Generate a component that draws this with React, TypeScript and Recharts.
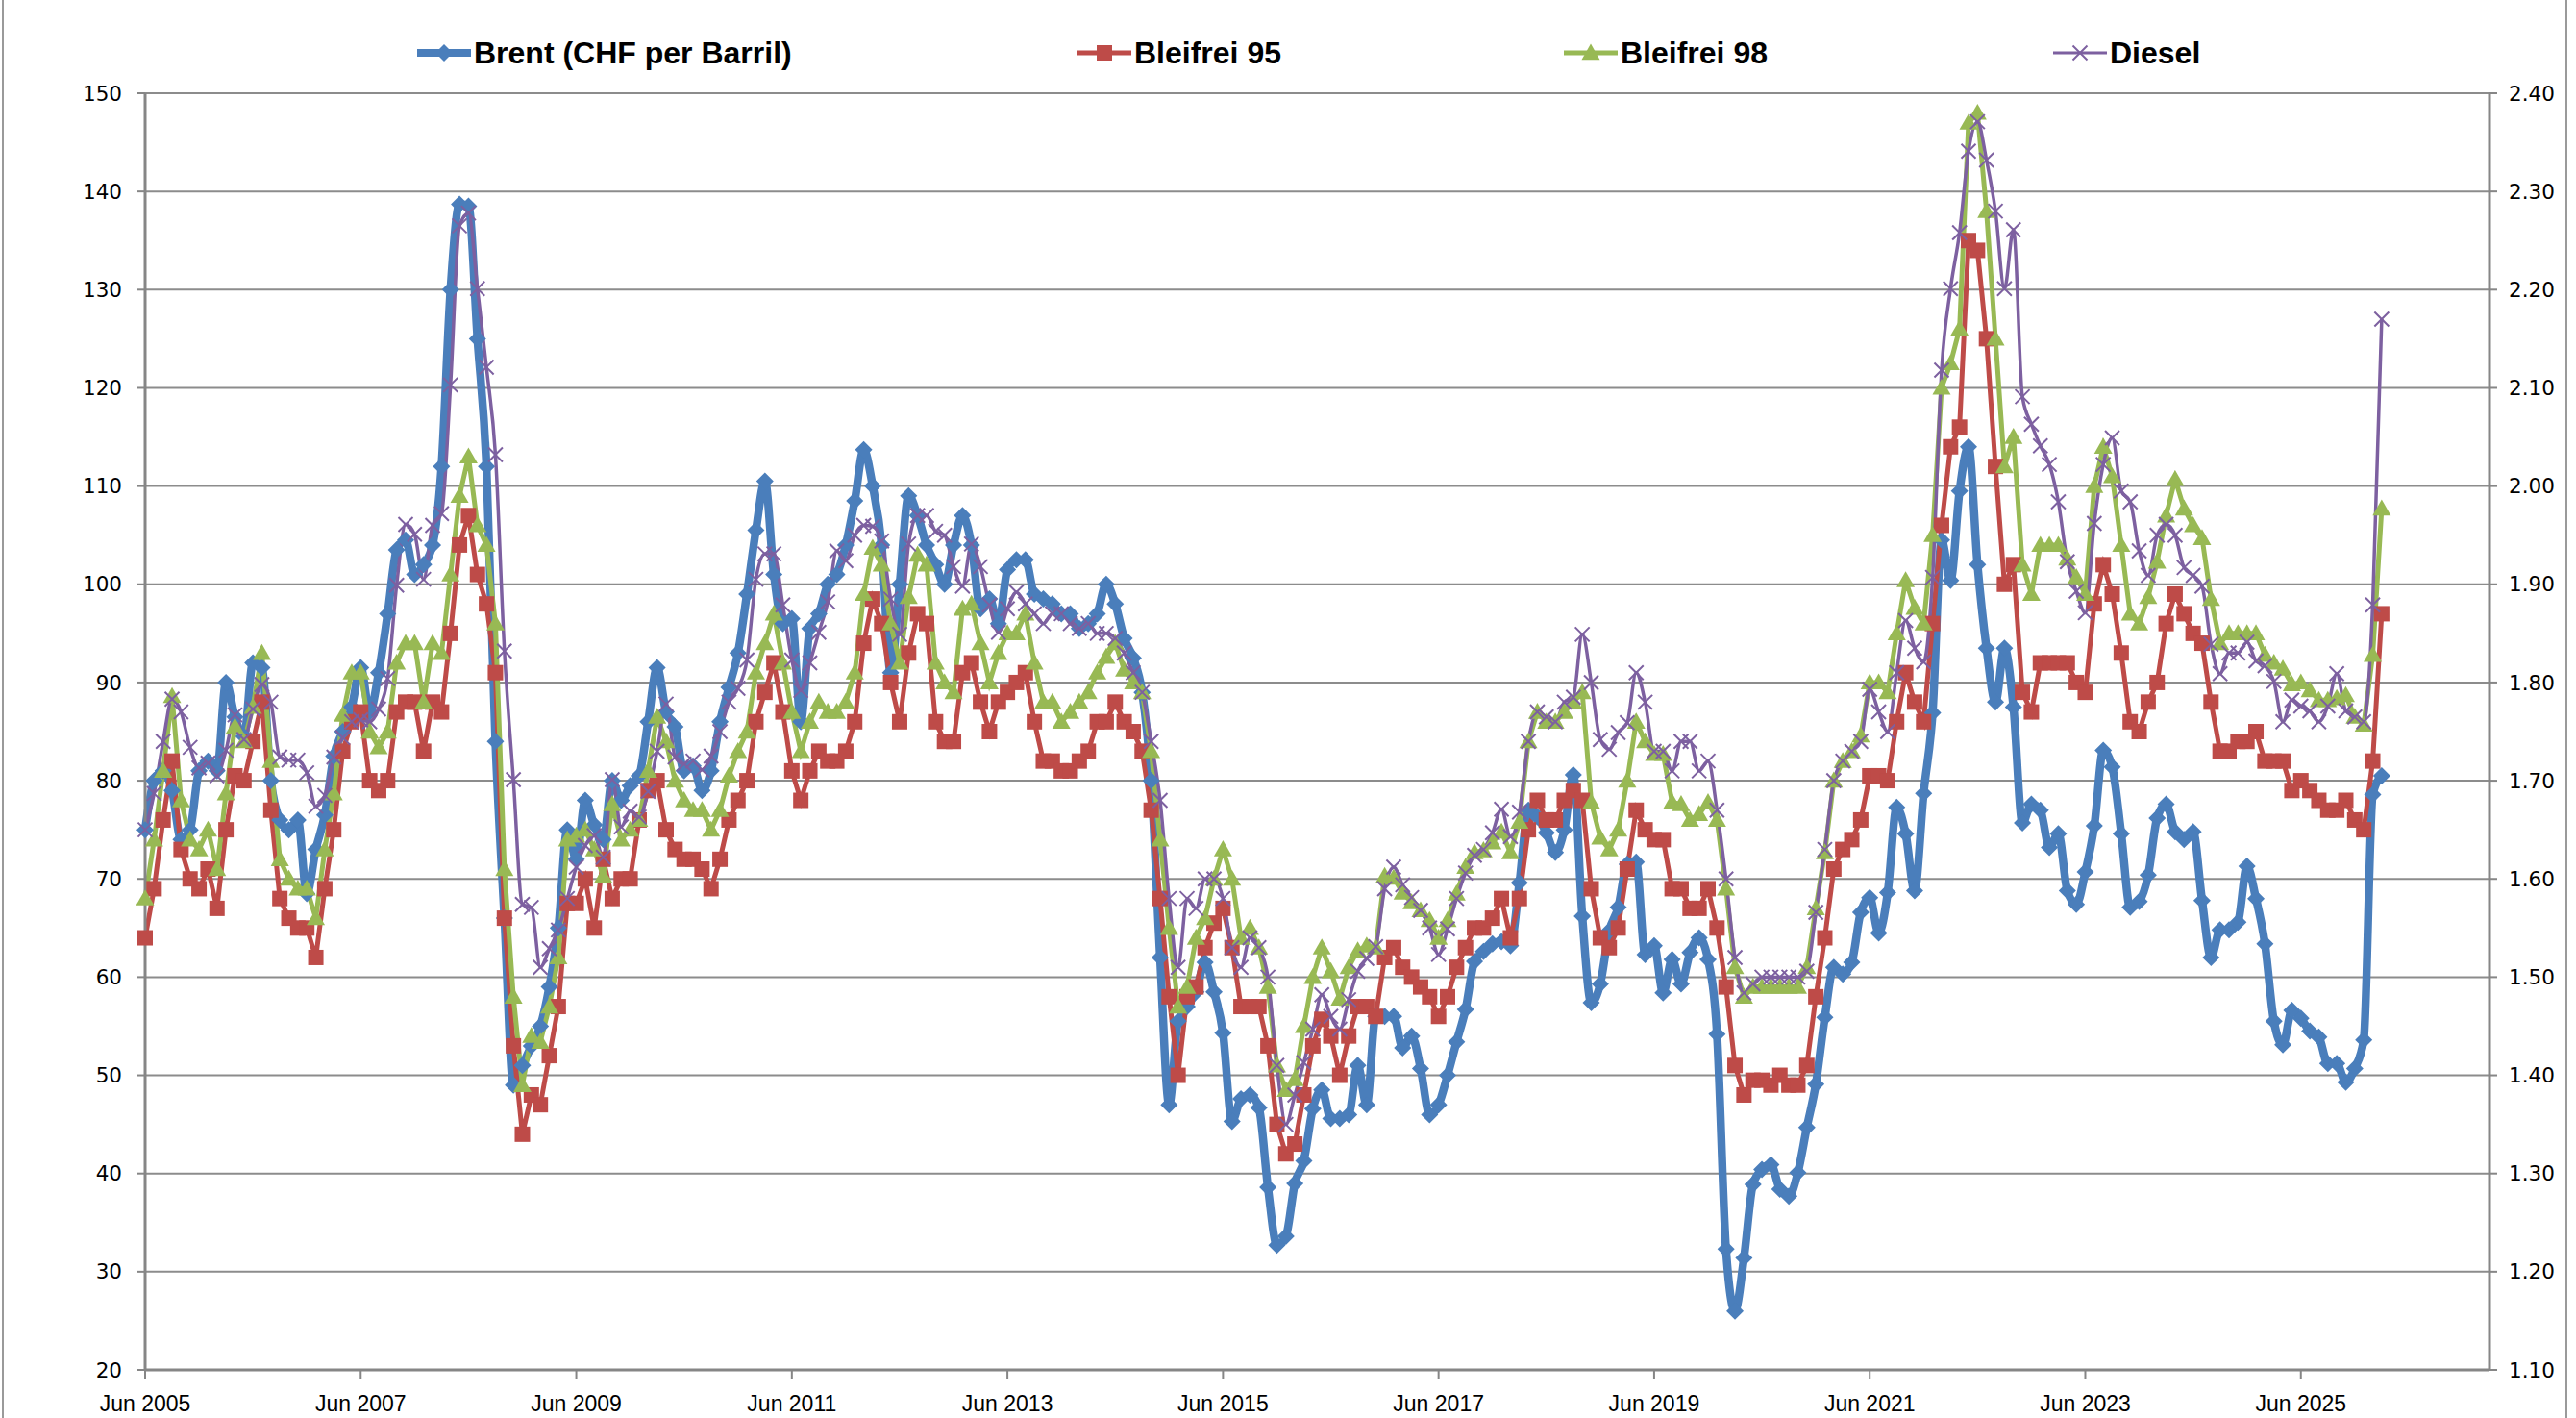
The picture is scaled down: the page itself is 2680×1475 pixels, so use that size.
import React from 'react';
import { LineChart, Line, XAxis, YAxis, CartesianGrid, Legend } from 'recharts';

// ---- categories / tick labels ----
const MONTH_NAMES = ['Jan', 'Feb', 'Mar', 'Apr', 'May', 'Jun', 'Jul', 'Aug', 'Sep', 'Oct', 'Nov', 'Dec'];
const FIRST_MONTH = 5; // Jun
const FIRST_YEAR = 2005;
const SLOT_COUNT = 262; // monthly slots on the category axis (Jun 2005 ... Mar 2027)
const xTickIndex = [0, 24, 48, 72, 96, 120, 144, 168, 192, 216, 240];
const xTickLabels = ['Jun 2005', 'Jun 2007', 'Jun 2009', 'Jun 2011', 'Jun 2013', 'Jun 2015', 'Jun 2017', 'Jun 2019', 'Jun 2021', 'Jun 2023', 'Jun 2025'];
const xMinorTicks = Array.from({ length: 88 }, (_, k) => k * 3);
const leftTicks = [20, 30, 40, 50, 60, 70, 80, 90, 100, 110, 120, 130, 140, 150];
const leftMinorTicks = [25, 35, 45, 55, 65, 75, 85, 95, 105, 115, 125, 135, 145];
const rightTicks = [1.1, 1.2, 1.3, 1.4, 1.5, 1.6, 1.7, 1.8, 1.9, 2.0, 2.1, 2.2, 2.3, 2.4];
const rightMinorTicks = [1.15, 1.25, 1.35, 1.45, 1.55, 1.65, 1.75, 1.85, 1.95, 2.05, 2.15, 2.25, 2.35];

// ---- series (monthly, from Jun 2005) ----
// Brent, CHF per barrel (left axis)
const brent = [
  75, 80, 81, 79, 74, 75, 81, 82, 81, 90, 86.5, 84.5,
  92, 91.5, 80, 76, 75, 76, 68.5, 73, 76.5, 82.5, 85, 87.5,
  91.5, 87, 91, 97, 103.5, 104.5, 101, 102, 104, 112, 130, 138.7,
  138.5, 125, 112, 84, 66, 49, 51, 53, 55, 59, 65, 75,
  72, 78, 75.5, 74, 80, 78, 79.5, 80.5, 86, 91.5, 87, 85.5,
  81, 81.5, 79, 81, 86, 89.5, 93, 99, 105.5, 110.5, 101, 96,
  96.5, 86, 95.5, 97, 100, 101, 104, 108.5, 113.7, 110, 104, 91,
  100, 109, 107, 104, 102, 100, 104, 107, 104, 97.5, 98.5, 96,
  101.5, 102.5, 102.5, 99, 98.5, 98, 97, 97, 95.5, 96, 97, 100,
  98, 94.5, 92.5, 89, 80, 62, 47, 55.5, 57, 58.5, 61.5, 58.5,
  54.3, 45.3, 47.6, 48, 46.7, 38.6, 32.7, 33.6, 39, 41.3, 46.6, 48.5,
  45.6, 45.6, 46, 51, 47, 56, 56, 56, 52.8, 54, 50.7, 46,
  47, 50, 53.4, 56.7, 61.6, 62.6, 63.4, 63.6, 63.2, 69.6, 77, 76.3,
  74.7, 72.7, 75, 80.6, 66.2, 57.4, 59.3, 64.7, 67.1, 71.5, 71.7, 62.3,
  63.2, 58.4, 61.8, 59.3, 62.5, 64, 61.8, 54.2, 32.3, 26, 31.4, 38.9,
  40.4, 40.9, 38.4, 37.7, 40.1, 44.7, 49.1, 55.9, 61, 60.3, 61.5, 66.6,
  68.1, 64.5, 68.6, 77.3, 74.6, 68.8, 78.7, 86.9, 104.5, 100.4, 109.5, 114,
  102, 93.5, 88, 93.5, 87.5, 75.7, 77.6, 77, 73.2, 74.6, 68.8, 67.4,
  70.7, 75.4, 83.1, 81.4, 74.6, 67.1, 67.7, 70.4, 76.2, 77.6, 74.8, 74,
  74.8, 67.8, 62, 64.8, 64.8, 65.6, 71.3, 68, 63.4, 55.5, 53.1, 56.6,
  55.8, 54.5, 53.9, 51.2, 51.2, 49.3, 50.7, 53.6, 78.6, 80.5,
];

// Bleifrei 95, CHF per litre (right axis)
const bleifrei95 = [
  1.54, 1.59, 1.66, 1.72, 1.63, 1.60, 1.59, 1.61, 1.57, 1.65, 1.705, 1.70,
  1.74, 1.78, 1.67, 1.58, 1.56, 1.55, 1.55, 1.52, 1.59, 1.65, 1.73, 1.76,
  1.77, 1.70, 1.69, 1.70, 1.77, 1.78, 1.78, 1.73, 1.78, 1.77, 1.85, 1.94,
  1.97, 1.91, 1.88, 1.81, 1.56, 1.43, 1.34, 1.38, 1.37, 1.42, 1.47, 1.575,
  1.575, 1.60, 1.55, 1.62, 1.58, 1.60, 1.60, 1.66, 1.69, 1.70, 1.65, 1.63,
  1.62, 1.62, 1.61, 1.59, 1.62, 1.66, 1.68, 1.70, 1.76, 1.79, 1.82, 1.77,
  1.71, 1.68, 1.71, 1.73, 1.72, 1.72, 1.73, 1.76, 1.84, 1.885, 1.86, 1.80,
  1.76, 1.83, 1.87, 1.86, 1.76, 1.74, 1.74, 1.81, 1.82, 1.78, 1.75, 1.78,
  1.79, 1.80, 1.81, 1.76, 1.72, 1.72, 1.71, 1.71, 1.72, 1.73, 1.76, 1.76,
  1.78, 1.76, 1.75, 1.73, 1.67, 1.58, 1.48, 1.40, 1.48, 1.49, 1.53, 1.555,
  1.57, 1.53, 1.47, 1.47, 1.47, 1.43, 1.35, 1.32, 1.33, 1.38, 1.43, 1.457,
  1.44, 1.40, 1.44, 1.47, 1.47, 1.46, 1.52, 1.53, 1.51, 1.50, 1.49, 1.48,
  1.46, 1.48, 1.51, 1.53, 1.55, 1.55, 1.56, 1.58, 1.54, 1.58, 1.65, 1.68,
  1.66, 1.66, 1.68, 1.69, 1.68, 1.59, 1.54, 1.53, 1.55, 1.61, 1.67, 1.65,
  1.64, 1.64, 1.59, 1.59, 1.57, 1.57, 1.59, 1.55, 1.49, 1.41, 1.38, 1.395,
  1.395, 1.39, 1.40, 1.39, 1.39, 1.41, 1.48, 1.54, 1.61, 1.63, 1.64, 1.66,
  1.705, 1.705, 1.70, 1.76, 1.81, 1.78, 1.76, 1.86, 1.96, 2.04, 2.06, 2.25,
  2.24, 2.15, 2.02, 1.90, 1.92, 1.79, 1.77, 1.82, 1.82, 1.82, 1.82, 1.80,
  1.79, 1.88, 1.92, 1.89, 1.83, 1.76, 1.75, 1.78, 1.80, 1.86, 1.89, 1.87,
  1.85, 1.84, 1.78, 1.73, 1.73, 1.74, 1.74, 1.75, 1.72, 1.72, 1.72, 1.69,
  1.70, 1.69, 1.68, 1.67, 1.67, 1.68, 1.66, 1.65, 1.72, 1.87,
];

// Bleifrei 98, CHF per litre (right axis)
const bleifrei98 = [
  1.58, 1.64, 1.71, 1.786, 1.68, 1.64, 1.63, 1.65, 1.61, 1.687, 1.755, 1.74,
  1.775, 1.83, 1.72, 1.62, 1.60, 1.59, 1.59, 1.56, 1.63, 1.687, 1.767, 1.81,
  1.81, 1.75, 1.734, 1.75, 1.82, 1.84, 1.84, 1.78, 1.84, 1.83, 1.91, 1.99,
  2.03, 1.96, 1.94, 1.86, 1.61, 1.48, 1.39, 1.44, 1.434, 1.47, 1.52, 1.64,
  1.644, 1.65, 1.63, 1.603, 1.676, 1.64, 1.65, 1.66, 1.71, 1.765, 1.74, 1.70,
  1.68, 1.67, 1.67, 1.65, 1.67, 1.705, 1.73, 1.75, 1.81, 1.84, 1.87, 1.82,
  1.77, 1.73, 1.76, 1.78, 1.77, 1.77, 1.78, 1.81, 1.89, 1.937, 1.92, 1.86,
  1.82, 1.887, 1.93, 1.92, 1.82, 1.80, 1.79, 1.875, 1.88, 1.84, 1.80, 1.83,
  1.85, 1.85, 1.87, 1.82, 1.78, 1.78, 1.76, 1.77, 1.78, 1.79, 1.81, 1.826,
  1.84, 1.813, 1.80, 1.79, 1.73, 1.64, 1.55, 1.47, 1.49, 1.54, 1.56, 1.60,
  1.63, 1.60, 1.54, 1.55, 1.53, 1.49, 1.41, 1.385, 1.396, 1.45, 1.50, 1.53,
  1.506, 1.478, 1.51, 1.527, 1.532, 1.53, 1.603, 1.601, 1.586, 1.576, 1.568, 1.558,
  1.54, 1.558, 1.585, 1.612, 1.627, 1.629, 1.637, 1.648, 1.627, 1.658, 1.74, 1.77,
  1.76, 1.76, 1.77, 1.78, 1.79, 1.678, 1.642, 1.63, 1.65, 1.70, 1.76, 1.74,
  1.727, 1.727, 1.678, 1.676, 1.66, 1.666, 1.678, 1.66, 1.59, 1.51, 1.48, 1.49,
  1.49, 1.49, 1.49, 1.49, 1.49, 1.51, 1.57, 1.627, 1.70, 1.72, 1.73, 1.746,
  1.80, 1.80, 1.79, 1.85, 1.904, 1.876, 1.86, 1.95, 2.10, 2.125, 2.16, 2.37,
  2.38, 2.28, 2.15, 2.02, 2.05, 1.92, 1.89, 1.94, 1.94, 1.94, 1.926, 1.907,
  1.89, 2.00, 2.04, 2.01, 1.94, 1.87, 1.86, 1.887, 1.923, 1.97, 2.007, 1.977,
  1.96, 1.947, 1.885, 1.84, 1.85, 1.85, 1.85, 1.85, 1.828, 1.82, 1.814, 1.798,
  1.80, 1.792, 1.782, 1.782, 1.784, 1.787, 1.765, 1.757, 1.828, 1.977,
];

// Diesel, CHF per litre (right axis)
const diesel = [
  1.65, 1.687, 1.74, 1.783, 1.77, 1.734, 1.713, 1.718, 1.705, 1.731, 1.767, 1.742,
  1.773, 1.798, 1.78, 1.724, 1.721, 1.721, 1.708, 1.674, 1.685, 1.724, 1.744, 1.76,
  1.762, 1.76, 1.773, 1.804, 1.899, 1.961, 1.951, 1.905, 1.96, 1.972, 2.103, 2.265,
  2.278, 2.201, 2.121, 2.032, 1.832, 1.701, 1.574, 1.571, 1.51, 1.529, 1.548, 1.58,
  1.612, 1.634, 1.644, 1.622, 1.701, 1.653, 1.669, 1.663, 1.689, 1.73, 1.778, 1.724,
  1.717, 1.72, 1.711, 1.725, 1.75, 1.78, 1.794, 1.823, 1.905, 1.931, 1.931, 1.879,
  1.823, 1.792, 1.82, 1.851, 1.882, 1.934, 1.924, 1.95, 1.96, 1.959, 1.944, 1.885,
  1.849, 1.941, 1.97, 1.97, 1.954, 1.95, 1.918, 1.898, 1.941, 1.918, 1.879, 1.851,
  1.875, 1.892, 1.88, 1.87, 1.86, 1.87, 1.87, 1.86, 1.855, 1.86, 1.85, 1.85,
  1.845, 1.83, 1.81, 1.79, 1.74, 1.68, 1.58, 1.51, 1.58, 1.57, 1.60, 1.60,
  1.58, 1.53, 1.51, 1.54, 1.53, 1.50, 1.41, 1.35, 1.38, 1.413, 1.447, 1.482,
  1.46, 1.447, 1.477, 1.506, 1.519, 1.531, 1.59, 1.612, 1.594, 1.581, 1.568, 1.55,
  1.523, 1.549, 1.58, 1.606, 1.624, 1.63, 1.647, 1.671, 1.643, 1.668, 1.74, 1.77,
  1.765, 1.76, 1.78, 1.785, 1.849, 1.80, 1.742, 1.732, 1.749, 1.759, 1.81, 1.78,
  1.73, 1.73, 1.71, 1.74, 1.74, 1.71, 1.72, 1.67, 1.60, 1.52, 1.484, 1.493,
  1.50, 1.50, 1.50, 1.50, 1.50, 1.506, 1.566, 1.63, 1.70, 1.72, 1.73, 1.74,
  1.793, 1.77, 1.75, 1.81, 1.863, 1.835, 1.821, 1.907, 2.118, 2.201, 2.258, 2.341,
  2.371, 2.332, 2.28, 2.201, 2.261, 2.091, 2.063, 2.041, 2.022, 1.984, 1.923, 1.893,
  1.871, 1.962, 2.022, 2.049, 1.995, 1.984, 1.934, 1.909, 1.95, 1.961, 1.95, 1.917,
  1.909, 1.898, 1.839, 1.809, 1.83, 1.83, 1.841, 1.822, 1.817, 1.801, 1.76, 1.782,
  1.776, 1.771, 1.76, 1.776, 1.809, 1.771, 1.765, 1.76, 1.879, 2.17,
];

const monthLabel = (i: number) => {
  const m = FIRST_MONTH + i;
  return `${MONTH_NAMES[m % 12]} ${FIRST_YEAR + Math.floor(m / 12)}`;
};

const data = Array.from({ length: SLOT_COUNT }, (_, i) => ({
  idx: i,
  month: monthLabel(i),
  brent: brent[i] ?? null,
  b95: bleifrei95[i] ?? null,
  b98: bleifrei98[i] ?? null,
  diesel: diesel[i] ?? null,
}));

// ---- styles ----
const BLUE = '#4A7EBB';
const RED = '#BE4B48';
const GREEN = '#98B954';
const PURPLE = '#7D60A0';
const AXIS_GRAY = '#868686';
const GRID_GRAY = '#8C8C8C';
const TICK_FONT = { fontFamily: 'DejaVu Sans, Verdana, sans-serif', fontSize: 21.5, fill: '#000' };
const X_FONT = { fontFamily: 'Liberation Sans, Arial, sans-serif', fontSize: 23, fill: '#000' };

const Diamond = ({ cx, cy, color, r = 9 }: any) => (
  <path d={`M${cx},${cy - r}L${cx + r},${cy}L${cx},${cy + r}L${cx - r},${cy}Z`} fill={color} />
);
const Square = ({ cx, cy, color, s = 16 }: any) => (
  <rect x={cx - s / 2} y={cy - s / 2} width={s} height={s} fill={color} />
);
const Triangle = ({ cx, cy, color, s = 9.5 }: any) => (
  <path d={`M${cx},${cy - s}L${cx + s},${cy + s * 0.75}L${cx - s},${cy + s * 0.75}Z`} fill={color} />
);
const Cross = ({ cx, cy, color, s = 7.5 }: any) => (
  <g stroke={color} strokeWidth={2}>
    <line x1={cx - s} y1={cy - s} x2={cx + s} y2={cy + s} />
    <line x1={cx - s} y1={cy + s} x2={cx + s} y2={cy - s} />
  </g>
);

const makeDot = (Shape: any, color: string, key: string) => (props: any) => {
  const { cx, cy, payload, index } = props;
  if (cx == null || cy == null || payload == null || payload[key] == null) return <g key={`${key}-${index}`} />;
  return <Shape key={`${key}-${index}`} cx={cx} cy={cy} color={color} />;
};

const legendItems = [
  { name: 'Brent (CHF per Barril)', color: BLUE, Shape: Diamond, width: 8, left: 434 },
  { name: 'Bleifrei 95', color: RED, Shape: Square, width: 5, left: 1121 },
  { name: 'Bleifrei 98', color: GREEN, Shape: Triangle, width: 5, left: 1627 },
  { name: 'Diesel', color: PURPLE, Shape: Cross, width: 3, left: 2136 },
];

const LegendBox = () => (
  <div style={{ position: 'relative', width: 2680, height: 100 }}>
    {legendItems.map((it) => (
      <div
        key={it.name}
        style={{ position: 'absolute', left: it.left, top: 40, height: 30, display: 'flex', alignItems: 'center' }}
      >
        <svg width={56} height={30} style={{ display: 'block' }}>
          <line x1={0} y1={15} x2={56} y2={15} stroke={it.color} strokeWidth={it.width} />
          <it.Shape cx={28} cy={15} color={it.color} />
        </svg>
        <span
          style={{
            marginLeft: 3,
            fontFamily: 'Liberation Sans, Arial, sans-serif',
            fontWeight: 700,
            fontSize: 32,
            color: '#000',
            whiteSpace: 'nowrap',
            lineHeight: '30px',
          }}
        >
          {it.name}
        </span>
      </div>
    ))}
  </div>
);

export default function App() {
  return (
    <div style={{ position: 'absolute', left: 0, top: 0, width: 2680, height: 1475, background: '#fff', overflow: 'hidden' }}>
      <div style={{ position: 'absolute', left: 2, top: 0, width: 2, height: 1475, background: '#9a9a9a' }} />
      <div style={{ position: 'absolute', left: 2669, top: 0, width: 2, height: 1475, background: '#9a9a9a' }} />
      <LineChart width={2680} height={1475} data={data} margin={{ top: 97, right: 0, bottom: 0, left: 0 }}>
        <CartesianGrid yAxisId="left" xAxisId="main" vertical={false} stroke={GRID_GRAY} strokeWidth={2} />
        <XAxis
          xAxisId="main"
          dataKey="idx"
          type="number"
          domain={[0, SLOT_COUNT - 1]}
          ticks={xTickIndex}
          interval={0}
          tickFormatter={(v: number) => xTickLabels[xTickIndex.indexOf(v)] ?? ''}
          height={50}
          tickSize={9}
          tickMargin={18}
          axisLine={{ stroke: AXIS_GRAY, strokeWidth: 3 }}
          tickLine={{ stroke: AXIS_GRAY, strokeWidth: 2 }}
          tick={X_FONT}
        />
        <XAxis
          xAxisId="minor"
          dataKey="idx"
          type="number"
          domain={[0, SLOT_COUNT - 1]}
          ticks={xMinorTicks}
          interval={0}
          mirror
          height={0}
          tickSize={6}
          axisLine={false}
          tickLine={{ stroke: AXIS_GRAY, strokeWidth: 2 }}
          tickFormatter={() => ''}
        />
        <YAxis
          yAxisId="left"
          domain={[20, 150]}
          ticks={leftTicks}
          interval={0}
          width={151}
          tickSize={8}
          tickMargin={16}
          axisLine={{ stroke: AXIS_GRAY, strokeWidth: 3 }}
          tickLine={{ stroke: AXIS_GRAY, strokeWidth: 2 }}
          tick={TICK_FONT}
        />
        <YAxis
          yAxisId="leftMinor"
          domain={[20, 150]}
          ticks={leftMinorTicks}
          interval={0}
          mirror
          width={0}
          tickSize={6}
          axisLine={false}
          tickLine={{ stroke: AXIS_GRAY, strokeWidth: 2 }}
          tickFormatter={() => ''}
        />
        <YAxis
          yAxisId="right"
          orientation="right"
          domain={[1.1, 2.4]}
          ticks={rightTicks}
          interval={0}
          width={90}
          tickSize={8}
          tickMargin={12}
          tickFormatter={(v: number) => v.toFixed(2)}
          axisLine={{ stroke: AXIS_GRAY, strokeWidth: 3 }}
          tickLine={{ stroke: AXIS_GRAY, strokeWidth: 2 }}
          tick={TICK_FONT}
        />
        <YAxis
          yAxisId="rightMinor"
          orientation="right"
          domain={[1.1, 2.4]}
          ticks={rightMinorTicks}
          interval={0}
          mirror
          width={0}
          tickSize={6}
          axisLine={false}
          tickLine={{ stroke: AXIS_GRAY, strokeWidth: 2 }}
          tickFormatter={() => ''}
        />
        <Legend
          layout="horizontal"
          verticalAlign="middle"
          align="center"
          wrapperStyle={{ top: 0, left: 0, width: 2680, height: 100 }}
          content={() => <LegendBox />}
        />
        <Line
          xAxisId="main"
          yAxisId="left"
          type="monotone"
          dataKey="brent"
          name="Brent (CHF per Barril)"
          stroke={BLUE}
          strokeWidth={8.5}
          dot={makeDot(Diamond, BLUE, 'brent')}
          activeDot={false}
          isAnimationActive={false}
        />
        <Line
          xAxisId="main"
          yAxisId="right"
          type="linear"
          dataKey="b95"
          name="Bleifrei 95"
          stroke={RED}
          strokeWidth={5}
          dot={makeDot(Square, RED, 'b95')}
          activeDot={false}
          isAnimationActive={false}
        />
        <Line
          xAxisId="main"
          yAxisId="right"
          type="linear"
          dataKey="b98"
          name="Bleifrei 98"
          stroke={GREEN}
          strokeWidth={5}
          dot={makeDot(Triangle, GREEN, 'b98')}
          activeDot={false}
          isAnimationActive={false}
        />
        <Line
          xAxisId="main"
          yAxisId="right"
          type="monotone"
          dataKey="diesel"
          name="Diesel"
          stroke={PURPLE}
          strokeWidth={3.5}
          dot={makeDot(Cross, PURPLE, 'diesel')}
          activeDot={false}
          isAnimationActive={false}
        />
      </LineChart>
    </div>
  );
}
